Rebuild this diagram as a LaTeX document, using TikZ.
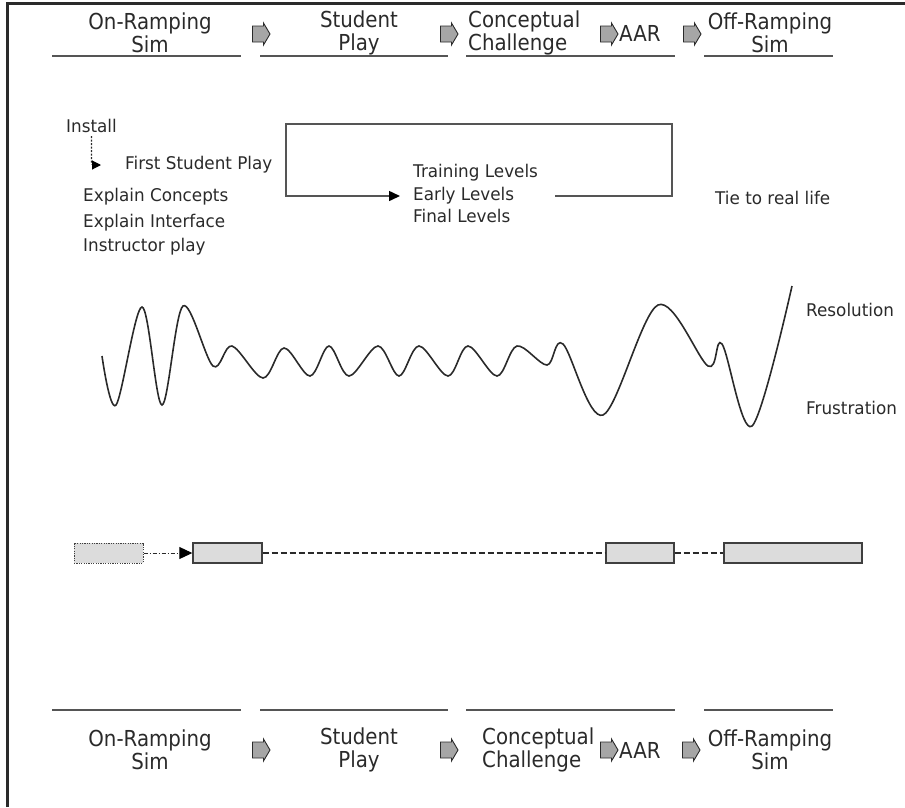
\documentclass[tikz,border=0pt]{standalone}
\usepackage{fontspec}
\setmainfont{DejaVu Sans}
\newfontfamily\headfont[FakeStretch=0.9]{DejaVu Sans}
\newfontfamily\itemfont[FakeStretch=0.96]{DejaVu Sans}
\usetikzlibrary{arrows.meta}
\definecolor{ink}{HTML}{2A2A2A}
\definecolor{rulegray}{HTML}{555555}
\definecolor{barfill}{HTML}{DCDCDC}
\definecolor{arrowfill}{HTML}{A6A6A6}

\begin{document}
\begin{tikzpicture}[x=1pt,y=-1pt,
  phase/.style={font=\headfont\fontsize{22}{23}\selectfont, align=center, inner sep=0pt, text=ink},
  phaseleft/.style={phase, align=left, anchor=west},
  flowarrow/.pic={
    \path[draw=ink, fill=arrowfill, line width=0.9pt, line join=miter]
      (-8,-8) -- (3,-8) -- (3,-11) -- (9.5,0) -- (3,11) -- (3,8) -- (-8,8) -- cycle;
  },
  phaserule/.style={draw=rulegray, line width=1.6pt},
  item/.style={font=\itemfont\fontsize{17.5}{20}\selectfont, inner sep=0pt, text=ink,
    text height=12.5pt, text depth=3.5pt, anchor=west},
  bar/.style={draw=ink!90, fill=barfill, line width=1.4pt, minimum height=20pt, inner sep=0pt},
  ghostbar/.style={bar, line width=1pt, dash pattern=on 1.2pt off 1.2pt},
  link/.style={draw=ink, line width=1pt},
]
\useasboundingbox (0,0) rectangle (905,807);

% frame
\draw[ink, line width=3pt] (7,807) -- (7,3) -- (905,3);

% ---------- phase header (top) ----------
\node[phase] (onT) at (150,33) {On-Ramping\\Sim};
\pic (fa1) at (260.5,34) {flowarrow};
\node[phase] (stT) at (359,33) {Student\\Play};
\pic (fa2) at (448.5,34) {flowarrow};
\node[phaseleft] (coT) at (468,33) {Conceptual\\Challenge};
\pic (fa3) at (608.5,34) {flowarrow};
\node[phaseleft] (aaT) at (619,33) {AAR};
\pic (fa4) at (691.5,34) {flowarrow};
\node[phase] (ofT) at (770,33) {Off-Ramping\\Sim};

\draw[phaserule] (52,56) -- (241,56);
\draw[phaserule] (260,56) -- (448,56);
\draw[phaserule] (466,56) -- (675,56);
\draw[phaserule] (704,56) -- (833,56);

% ---------- activities ----------
\node[item] (install) at (66,128) {Install};
\node[item] (fsp) at (125,165) {First Student Play};
\node[item] (concepts) at (83,197) {Explain Concepts};
\node[item] (interface) at (83,223) {Explain Interface};
\node[item] (instr) at (83,247) {Instructor play};

\draw[link, line width=1.1pt, dash pattern=on 2pt off 1.5pt, shorten >=24pt, rounded corners=2pt,
  -{Triangle[length=9pt,width=9pt,color=black]}] (install.south) |- (fsp.west);

\node[item] (training) at (413,173) {Training Levels};
\node[item] (early) at (413,196) {Early Levels};
\node[item] (final) at (413,218) {Final Levels};

\coordinate (loopstart) at (555,196);
\coordinate (loopNE) at (672,124);
\coordinate (loopNW) at (286,124);
\draw[draw=rulegray, line width=1.5pt, shorten >=13pt, -{Triangle[length=11pt,width=10pt,color=black]}]
  (loopstart) -| (loopNE) -- (loopNW) |- (early.west);

\node[item] (real) at (715,200) {Tie to real life};

% ---------- engagement curve ----------
\draw[ink, line width=1.6pt] plot[smooth, tension=0.55] coordinates {
  (102,356) (116,405) (142,307) (162,405) (183,306) (213,366) (232,346)
  (263,378) (284,348) (310,376) (329,346) (349,376) (378,346) (399,376)
  (419,346) (448,376) (468,346) (497,376) (517,346) (547,365) (563,344)
  (603,415) (658,305) (708,366) (722,344) (752,426) (792,286)};

\node[item] (resolution) at (806,312) {Resolution};
\node[item] (frustration) at (806,410) {Frustration};

% ---------- timeline bars ----------
\node[ghostbar, minimum width=69pt] (b0) at (108.5,553) {};
\node[bar, minimum width=69pt] (b1) at (227.5,553) {};
\node[bar, minimum width=68pt] (b2) at (640,553) {};
\node[bar, minimum width=138pt] (b3) at (793,553) {};

\draw[link, dash pattern=on 4pt off 2pt on 1pt off 2pt,
  -{Triangle[length=13pt,width=12pt,color=black]}] (b0) -- (b1);
\draw[link, line width=1.2pt, dash pattern=on 6pt off 3pt] (b1) -- (b2);
\draw[link, line width=1.2pt, dash pattern=on 6pt off 3pt] (b2) -- (b3);

% ---------- phase header (bottom) ----------
\draw[phaserule] (52,710) -- (241,710);
\draw[phaserule] (260,710) -- (448,710);
\draw[phaserule] (466,710) -- (675,710);
\draw[phaserule] (704,710) -- (833,710);

\node[phase] (onB) at (150,750) {On-Ramping\\Sim};
\pic (fb1) at (260.5,750) {flowarrow};
\node[phase] (stB) at (359,750) {Student\\Play};
\pic (fb2) at (448.5,750) {flowarrow};
\node[phaseleft] (coB) at (482,750) {Conceptual\\Challenge};
\pic (fb3) at (608.5,750) {flowarrow};
\node[phaseleft] (aaB) at (619,750) {AAR};
\pic (fb4) at (690.5,750) {flowarrow};
\node[phase] (ofB) at (770,750) {Off-Ramping\\Sim};
\end{tikzpicture}
\end{document}
